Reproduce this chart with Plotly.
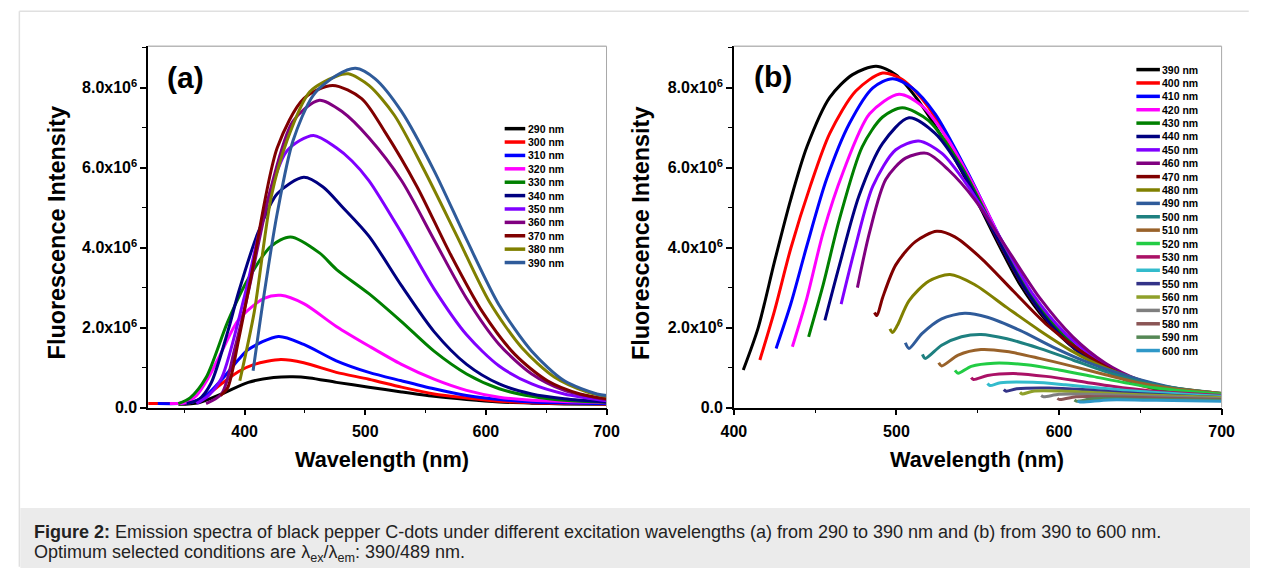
import plotly.graph_objects as go

# ---------------- DATA (intensity in units of 1e6) ----------------
EX_A = ["290 nm", "300 nm", "310 nm", "320 nm", "330 nm", "340 nm", "350 nm",
        "360 nm", "370 nm", "380 nm", "390 nm"]
COLORS_A = ["#000000", "#FF0000", "#0000FF", "#FF00FF", "#008000", "#000080",
            "#8000FF", "#800080", "#800000", "#808000", "#2F5B9A"]
WL_A = [
    [345, 362, 381, 403, 424, 440, 454, 476, 503, 530, 557, 584, 611, 638, 665, 700],
    [320, 340, 355, 368, 381, 395, 408, 430, 449, 476, 503, 530, 557, 584, 611, 638, 700],
    [328, 345, 358, 368, 381, 395, 403, 428, 449, 476, 503, 530, 557, 584, 611, 638, 700],
    [338, 350, 360, 370, 381, 395, 416, 430, 449, 476, 503, 530, 557, 584, 611, 638, 700],
    [345, 355, 368, 386, 403, 422, 438, 462, 476, 503, 530, 557, 584, 611, 638, 665, 700],
    [352, 362, 372, 386, 395, 411, 427, 449, 465, 481, 503, 530, 557, 584, 611, 638, 665, 700],
    [360, 370, 381, 400, 416, 435, 457, 476, 489, 503, 530, 557, 584, 611, 638, 665, 700],
    [368, 381, 392, 403, 422, 440, 462, 481, 503, 530, 557, 584, 611, 638, 665, 700],
    [380, 386, 395, 405, 427, 449, 473, 497, 516, 543, 570, 597, 624, 651, 678, 700],
    [396, 408, 422, 435, 454, 476, 486, 503, 524, 549, 576, 603, 630, 657, 684, 700],
    [407, 416, 427, 440, 457, 476, 492, 508, 530, 557, 584, 611, 638, 665, 692, 700],
]
INT_A = [
    [0.08, 0.12, 0.34, 0.63, 0.75, 0.77, 0.74, 0.63, 0.51, 0.39, 0.28, 0.20, 0.14, 0.11, 0.09, 0.08],
    [0.10, 0.10, 0.12, 0.30, 0.60, 0.90, 1.08, 1.20, 1.12, 0.88, 0.71, 0.51, 0.34, 0.24, 0.16, 0.12, 0.09],
    [0.10, 0.10, 0.15, 0.30, 0.70, 1.20, 1.45, 1.78, 1.58, 1.17, 0.88, 0.67, 0.47, 0.30, 0.20, 0.14, 0.10],
    [0.10, 0.12, 0.30, 0.75, 1.40, 2.20, 2.73, 2.81, 2.60, 2.03, 1.54, 1.08, 0.71, 0.43, 0.26, 0.18, 0.12],
    [0.10, 0.25, 0.75, 2.15, 3.22, 4.04, 4.27, 3.87, 3.46, 2.85, 2.15, 1.41, 0.84, 0.47, 0.28, 0.18, 0.13],
    [0.10, 0.20, 0.60, 1.90, 2.89, 4.37, 5.35, 5.76, 5.52, 5.02, 4.29, 3.05, 1.90, 1.08, 0.59, 0.34, 0.22, 0.14],
    [0.10, 0.30, 0.75, 2.80, 4.86, 6.42, 6.81, 6.50, 6.17, 5.68, 4.37, 2.97, 1.82, 1.04, 0.59, 0.34, 0.17],
    [0.10, 0.35, 1.50, 2.89, 5.52, 7.16, 7.69, 7.40, 6.75, 5.68, 4.20, 2.73, 1.58, 0.84, 0.43, 0.20],
    [0.30, 0.50, 1.70, 3.22, 6.50, 7.73, 8.06, 7.73, 6.91, 5.52, 3.87, 2.40, 1.33, 0.67, 0.34, 0.22],
    [0.67, 2.40, 5.27, 6.67, 7.90, 8.29, 8.35, 8.06, 7.32, 5.93, 4.29, 2.64, 1.49, 0.76, 0.39, 0.28],
    [0.92, 2.81, 4.86, 6.67, 7.82, 8.31, 8.49, 8.23, 7.41, 5.93, 4.20, 2.56, 1.41, 0.67, 0.34, 0.30],
]

EX_B = ["390 nm", "400 nm", "410 nm", "420 nm", "430 nm", "440 nm", "450 nm", "460 nm",
        "470 nm", "480 nm", "490 nm", "500 nm", "510 nm", "520 nm", "530 nm", "540 nm",
        "550 nm", "560 nm", "570 nm", "580 nm", "590 nm", "600 nm"]
COLORS_B = ["#000000", "#FF0000", "#0000FF", "#FF00FF", "#008000", "#000080", "#8000FF",
            "#800080", "#800000", "#808000", "#2F5B9A", "#1E8080", "#99622A", "#22CC44",
            "#AA1166", "#33BBCC", "#333388", "#8FA02A", "#7F7F7F", "#8B5555", "#558855",
            "#2F98C8"]
WL_B = [
    [405.8, 415, 425, 435, 445, 459, 473, 487.5, 499.6, 512, 528, 544, 560, 576, 592, 610.5, 630.6, 650.8, 671, 699],
    [416, 425, 435, 447, 459, 475, 491.5, 503.6, 519.8, 540, 560, 580, 600, 620.6, 640.7, 661, 700],
    [426, 435, 445, 457, 471, 485.5, 497.6, 509.7, 523.8, 544, 564, 584, 604, 624.6, 644.8, 665, 700],
    [436, 445, 455, 467, 483.5, 501.6, 515.7, 531.9, 552, 572, 592, 612.5, 632.7, 652.8, 700],
    [446, 455, 465, 479, 491.5, 503.6, 519.8, 540, 560, 580, 600, 620.6, 640.7, 661, 700],
    [456, 465, 477, 491.5, 507.7, 523.8, 540, 560, 580, 600, 620.6, 640.7, 700],
    [466, 475, 485.5, 499.6, 513.7, 528, 544, 564, 584, 604, 624.6, 644.8, 665, 700],
    [476, 483.5, 493.5, 505.6, 518.8, 531.9, 548, 568, 588, 608.5, 628.6, 648.8, 669, 700],
    [486.5, 488, 491.5, 499.6, 511.7, 524.8, 535.9, 552, 572, 592, 612.5, 632.7, 652.8, 673, 700],
    [496, 497.6, 500.5, 507.7, 519.8, 532.9, 548, 568, 588, 608.5, 628.6, 648.8, 669, 700],
    [505.5, 507.7, 515.7, 527.8, 542, 556, 576, 596, 616.5, 636.7, 656.9, 677, 700],
    [516, 517.7, 527.8, 540, 552, 568, 588, 608.5, 628.6, 648.8, 669, 700],
    [526, 527.8, 538, 552, 568, 588, 608.5, 628.6, 648.8, 669, 700],
    [536, 538, 546, 560, 580, 600, 620.6, 640.7, 661, 700],
    [546, 547.5, 556, 572, 592, 612.5, 632.7, 655, 700],
    [556, 557.5, 564, 584, 604, 624.6, 650, 700],
    [566, 567.5, 574, 594, 614.5, 640, 700],
    [576, 577.5, 584, 604, 624.6, 650, 700],
    [589, 590.5, 600, 620.6, 650, 700],
    [599, 600.5, 610.5, 630.6, 660, 700],
    [609.5, 611, 620.6, 645, 700],
    [611.5, 613, 630.6, 660, 700],
]
INT_B = [
    [0.94, 2.00, 3.65, 5.21, 6.53, 7.76, 8.33, 8.54, 8.33, 7.76, 6.77, 5.62, 4.31, 3.08, 2.18, 1.44, 0.90, 0.57, 0.41, 0.29],
    [1.19, 2.42, 3.98, 5.54, 6.86, 7.92, 8.37, 8.21, 7.51, 6.03, 4.39, 2.91, 1.85, 1.15, 0.70, 0.45, 0.30],
    [1.48, 2.59, 4.06, 5.71, 7.10, 8.00, 8.23, 8.00, 7.35, 5.87, 4.23, 2.75, 1.77, 1.11, 0.66, 0.44, 0.30],
    [1.52, 2.75, 4.39, 5.87, 7.35, 7.84, 7.55, 6.69, 5.21, 3.57, 2.34, 1.52, 0.94, 0.57, 0.30],
    [1.77, 3.08, 4.72, 6.53, 7.27, 7.50, 7.18, 6.03, 4.47, 3.00, 1.93, 1.19, 0.74, 0.45, 0.30],
    [2.18, 3.57, 5.30, 6.61, 7.25, 6.86, 5.95, 4.39, 2.91, 1.85, 1.15, 0.70, 0.30],
    [2.59, 4.06, 5.54, 6.45, 6.67, 6.36, 5.54, 4.23, 2.83, 1.85, 1.19, 0.74, 0.48, 0.32],
    [3.00, 4.39, 5.71, 6.24, 6.36, 5.95, 5.21, 3.98, 2.75, 1.77, 1.11, 0.70, 0.47, 0.33],
    [2.38, 2.30, 2.75, 3.57, 4.15, 4.41, 4.27, 3.74, 2.91, 2.09, 1.44, 0.94, 0.62, 0.44, 0.32],
    [1.97, 1.88, 2.05, 2.67, 3.16, 3.33, 3.08, 2.50, 1.93, 1.40, 0.99, 0.70, 0.50, 0.35],
    [1.62, 1.48, 1.85, 2.22, 2.36, 2.26, 1.93, 1.52, 1.15, 0.86, 0.62, 0.45, 0.35],
    [1.33, 1.23, 1.56, 1.77, 1.83, 1.72, 1.48, 1.19, 0.90, 0.66, 0.50, 0.35],
    [1.12, 1.04, 1.31, 1.45, 1.40, 1.23, 1.03, 0.82, 0.62, 0.48, 0.35],
    [0.93, 0.86, 1.03, 1.11, 1.07, 0.94, 0.78, 0.62, 0.48, 0.33],
    [0.75, 0.70, 0.80, 0.85, 0.78, 0.66, 0.53, 0.42, 0.30],
    [0.60, 0.55, 0.62, 0.63, 0.57, 0.49, 0.40, 0.28],
    [0.45, 0.41, 0.47, 0.49, 0.45, 0.37, 0.25],
    [0.38, 0.34, 0.41, 0.41, 0.37, 0.32, 0.25],
    [0.30, 0.27, 0.33, 0.33, 0.29, 0.22],
    [0.23, 0.20, 0.27, 0.27, 0.24, 0.20],
    [0.19, 0.16, 0.22, 0.21, 0.18],
    [0.17, 0.14, 0.19, 0.18, 0.16],
]

Y_TICKS = [0, 2, 4, 6, 8]
Y_TICKTEXT = ["0.0", "2.0x10<sup>6</sup>", "4.0x10<sup>6</sup>", "6.0x10<sup>6</sup>", "8.0x10<sup>6</sup>"]
X_TITLE = "Wavelength (nm)"
Y_TITLE = "Fluorescence Intensity"
CAPTION_1 = ("<b>Figure 2:</b> Emission spectra of black pepper C-dots under different excitation "
             "wavelengths (a) from 290 to 390 nm and (b) from 390 to 600 nm.")
CAPTION_2 = "Optimum selected conditions are λ<sub>ex</sub>/λ<sub>em</sub>: 390/489 nm."

# ---------------- LAYOUT ----------------
W, H = 1263, 577
FONT = "Liberation Sans, Arial, sans-serif"


def fx(px):
    return px / W


def fy(py):
    return 1 - py / H


A_L, A_R, B_L, B_R, TOP, BOT = 138, 606, 736, 1234, 47, 414

fig = go.Figure()
for name, col, xs, ys in zip(EX_A, COLORS_A, WL_A, INT_A):
    fig.add_trace(go.Scatter(x=xs, y=ys, mode="lines", name=name, xaxis="x", yaxis="y",
                             line=dict(color=col, width=3, shape="spline", smoothing=0.8),
                             showlegend=False))
for name, col, xs, ys in zip(EX_B, COLORS_B, WL_B, INT_B):
    fig.add_trace(go.Scatter(x=xs, y=ys, mode="lines", name=name, xaxis="x2", yaxis="y2",
                             line=dict(color=col, width=3, shape="spline", smoothing=0.8),
                             showlegend=False))

tickfont = dict(family=FONT, size=16, color="black", weight="bold")
xcommon = dict(showline=True, linecolor="black", linewidth=1.5, ticks="outside", ticklen=6,
               tickwidth=1.5, tickcolor="black", dtick=100, tick0=0, showgrid=False,
               zeroline=False, tickfont=tickfont, ticklabelstandoff=3,
               minor=dict(ticks="outside", ticklen=4, tickwidth=1.2, tickcolor="black",
                          dtick=50, tick0=0, showgrid=False))
ycommon = dict(showline=True, linecolor="black", linewidth=1.5, ticks="outside", ticklen=6,
               tickwidth=1.5, tickcolor="black", tickvals=Y_TICKS, ticktext=Y_TICKTEXT,
               range=[0, 9.04], showgrid=False, zeroline=False, tickfont=tickfont,
               minor=dict(ticks="outside", ticklen=4, tickwidth=1.2, tickcolor="black",
                          dtick=1, tick0=0, showgrid=False))

fig.update_layout(
    width=W, height=H, autosize=False,
    margin=dict(l=0, r=0, t=0, b=0),
    paper_bgcolor="white", plot_bgcolor="white",
    xaxis=dict(domain=[fx(A_L), fx(A_R)], range=[320, 700], anchor="y", **xcommon),
    yaxis=dict(domain=[fy(BOT), fy(TOP)], anchor="x", **ycommon),
    xaxis2=dict(domain=[fx(B_L), fx(B_R)], range=[400, 700], anchor="y2", **xcommon),
    yaxis2=dict(domain=[fy(BOT), fy(TOP)], anchor="x2", **ycommon),
)

shapes = []
annotations = []

# page frame and caption background
shapes.append(dict(type="rect", xref="paper", yref="paper", x0=fx(7.5), x1=1.0,
                   y0=0, y1=fy(516), fillcolor="#EBEBEB", line=dict(width=0), layer="below"))
shapes.append(dict(type="line", xref="paper", yref="paper", x0=fx(6.5), x1=fx(6.5),
                   y0=0.002, y1=fy(11.5), line=dict(color="#E0E0E0", width=1.5)))
shapes.append(dict(type="line", xref="paper", yref="paper", x0=fx(6.5), x1=0.999,
                   y0=fy(11.5), y1=fy(11.5), line=dict(color="#E0E0E0", width=1.5)))

# top / right frame of each panel (gray)
for l, r in [(A_L, A_R), (B_L, B_R)]:
    shapes.append(dict(type="line", xref="paper", yref="paper", x0=fx(l), x1=fx(r),
                       y0=fy(TOP), y1=fy(TOP), line=dict(color="#B8B8B8", width=1.5)))
    shapes.append(dict(type="line", xref="paper", yref="paper", x0=fx(r), x1=fx(r),
                       y0=fy(TOP), y1=fy(BOT), line=dict(color="#A8A8A8", width=1)))


# manual legends
def add_legend(labels, colors, x0, x1, xt, ytop, step):
    for i, (lab, col) in enumerate(zip(labels, colors)):
        yy = ytop + step * i
        shapes.append(dict(type="line", xref="paper", yref="paper", x0=fx(x0), x1=fx(x1),
                           y0=fy(yy), y1=fy(yy), line=dict(color=col, width=3.5)))
        annotations.append(dict(xref="paper", yref="paper", x=fx(xt), y=fy(yy), text=lab,
                                showarrow=False, xanchor="left", yanchor="middle", borderpad=0,
                                font=dict(family=FONT, size=10.5, color="black", weight="bold")))


add_legend(EX_A, COLORS_A, 502, 523, 525, 130.7, 13.6)
add_legend(EX_B, COLORS_B, 1147, 1171, 1172, 70.7, 13.59)

# panel letters
for txt, cx, cy in [("(a)", 176, 79), ("(b)", 776, 78)]:
    annotations.append(dict(xref="paper", yref="paper", x=fx(cx), y=fy(cy), text=txt,
                            showarrow=False, xanchor="center", yanchor="middle", borderpad=0,
                            font=dict(family=FONT, size=30, color="black", weight="bold")))

# axis titles
for cx in [377, 984]:
    annotations.append(dict(xref="paper", yref="paper", x=fx(cx), y=fy(467), text=X_TITLE,
                            showarrow=False, xanchor="center", yanchor="middle", borderpad=0,
                            font=dict(family=FONT, size=21.7, color="black", weight="bold")))
for cx in [45, 642]:
    annotations.append(dict(xref="paper", yref="paper", x=fx(cx), y=fy(237), text=Y_TITLE,
                            showarrow=False, xanchor="center", yanchor="middle", textangle=-90,
                            borderpad=0,
                            font=dict(family=FONT, size=23.4, color="black", weight="bold")))

# caption
for txt, cy in [(CAPTION_1, 540), (CAPTION_2, 562)]:
    annotations.append(dict(xref="paper", yref="paper", x=fx(20), y=fy(cy), text=txt,
                            showarrow=False, xanchor="left", yanchor="middle", align="left",
                            borderpad=0, font=dict(family=FONT, size=18, color="#222222")))

fig.update_layout(shapes=shapes, annotations=annotations)
fig.write_html("out.html")
